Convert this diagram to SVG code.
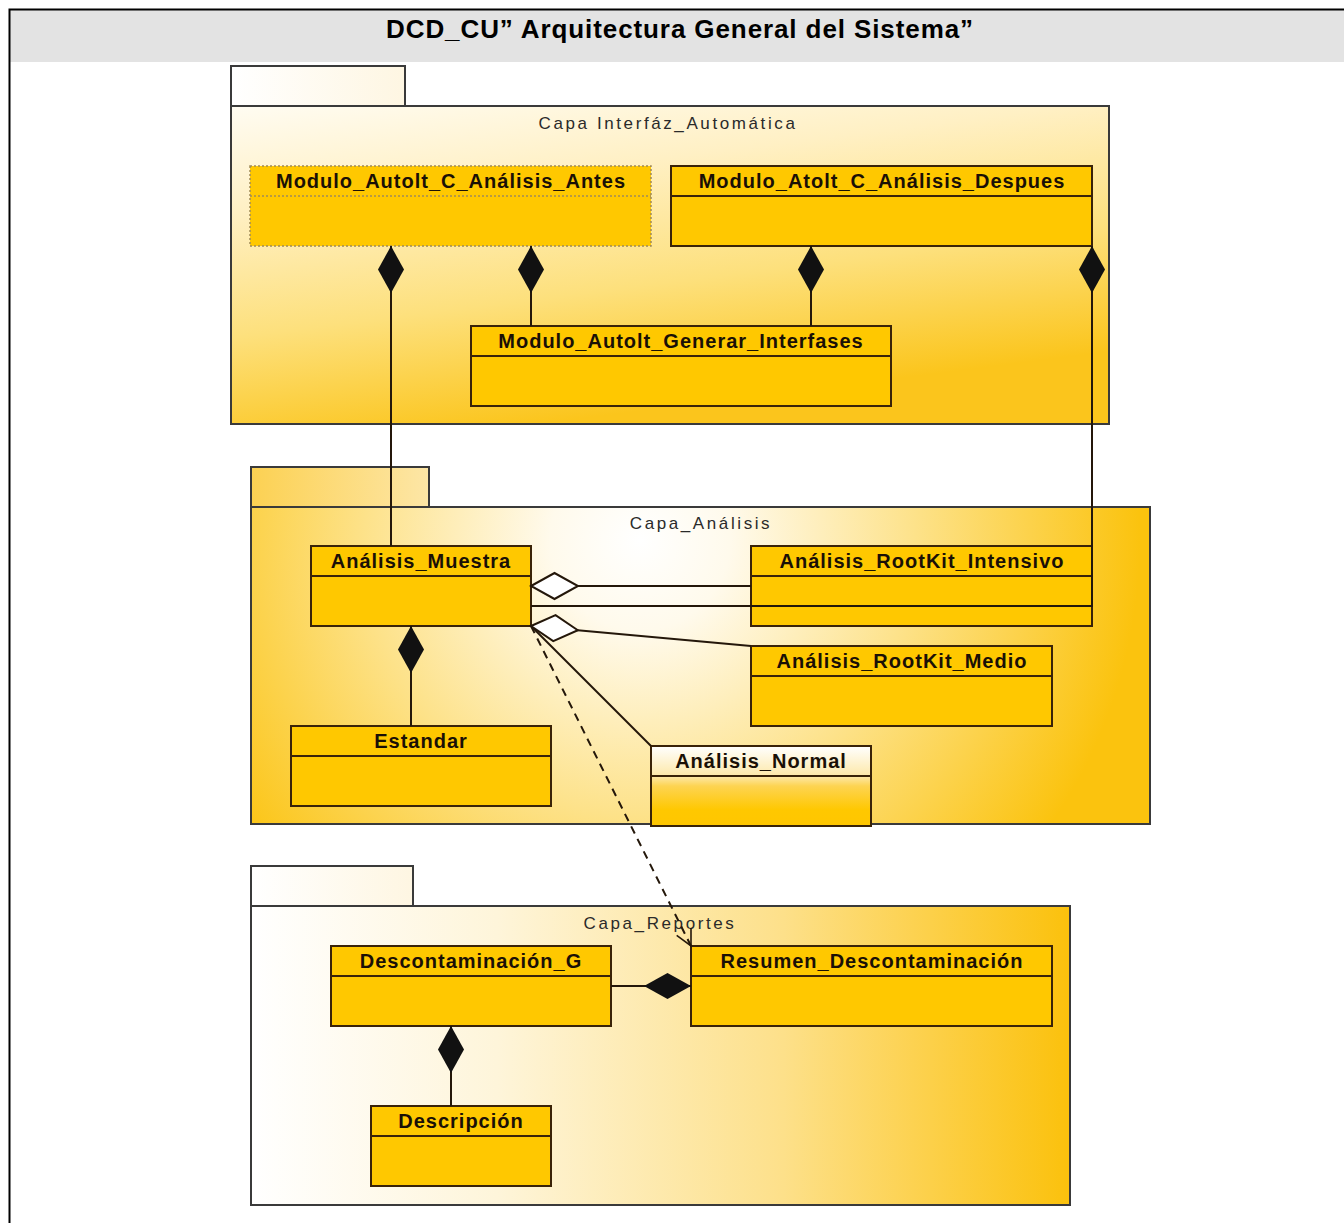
<svg xmlns="http://www.w3.org/2000/svg" width="1344" height="1223" viewBox="0 0 1344 1223">
  <style>
    .pkg { stroke: #3a3a3a; stroke-width: 2; }
    .cls { fill: #ffc800; stroke: #3a2308; stroke-width: 2; }
    .sep { stroke: #3a2308; stroke-width: 2; fill: none; }
    .dotted { fill: #ffc800; stroke: #a08a58; stroke-width: 1.5; stroke-dasharray: 2 2; }
    .dotsep { stroke: #a08a58; stroke-width: 1.5; stroke-dasharray: 2 2; fill: none; }
    .ctitle { font-family: "Liberation Sans", Arial, sans-serif; font-weight: bold; font-size: 20px; letter-spacing: 1px; text-anchor: middle; fill: #1a1006; }
    .pname { font-family: "Liberation Sans", Arial, sans-serif; font-size: 17px; letter-spacing: 2.6px; text-anchor: middle; fill: #2a2a2a; }
    .title { font-family: "Liberation Sans", Arial, sans-serif; font-weight: bold; font-size: 26px; letter-spacing: 0.9px; text-anchor: middle; fill: #000; }
    .conn { fill: none; stroke: #24170a; stroke-width: 2; }
    .comp { marker-start: url(#diamondFilled); }
    .aggr { marker-start: url(#diamondHollow); }
    .dep { stroke-dasharray: 8 6; marker-end: url(#openArrow); }
  </style>
  <defs>
    <linearGradient id="gPkg1" x1="0" y1="0" x2="0.35" y2="1">
      <stop offset="0" stop-color="#fffcf2"/>
      <stop offset="0.3" stop-color="#fff0c4"/>
      <stop offset="0.65" stop-color="#fde07c"/>
      <stop offset="1" stop-color="#fbc51c"/>
    </linearGradient>
    <radialGradient id="gPkg2" gradientUnits="userSpaceOnUse" cx="640" cy="540" r="500">
      <stop offset="0" stop-color="#ffffff"/>
      <stop offset="0.18" stop-color="#fffaec"/>
      <stop offset="0.55" stop-color="#fde28a"/>
      <stop offset="1" stop-color="#fbc30e"/>
    </radialGradient>
    <linearGradient id="gPkg3" x1="0" y1="0" x2="1" y2="0">
      <stop offset="0" stop-color="#ffffff"/>
      <stop offset="0.3" stop-color="#fef5da"/>
      <stop offset="0.65" stop-color="#fde08a"/>
      <stop offset="1" stop-color="#fbc10c"/>
    </linearGradient>
    <linearGradient id="gTabLight" x1="0" y1="0" x2="1" y2="0">
      <stop offset="0" stop-color="#ffffff"/>
      <stop offset="1" stop-color="#fef6e2"/>
    </linearGradient>
    <linearGradient id="gTab2" x1="0" y1="0" x2="1" y2="0">
      <stop offset="0" stop-color="#fcd152"/>
      <stop offset="1" stop-color="#fde6a6"/>
    </linearGradient>
    <linearGradient id="gNormal" x1="0" y1="0" x2="0" y2="1">
      <stop offset="0" stop-color="#ffffff"/>
      <stop offset="0.38" stop-color="#fde8a8"/>
      <stop offset="0.5" stop-color="#fdd452"/>
      <stop offset="0.8" stop-color="#ffc800"/>
      <stop offset="1" stop-color="#ffc600"/>
    </linearGradient>
    <marker id="diamondFilled" markerUnits="userSpaceOnUse" viewBox="-2 -2 52 30" markerWidth="52" markerHeight="30" refX="0" refY="13" orient="auto">
      <path d="M0,13 L23.5,0 L47,13 L23.5,26 Z" fill="#111"/>
    </marker>
    <marker id="diamondHollow" markerUnits="userSpaceOnUse" viewBox="-2 -2 52 30" markerWidth="52" markerHeight="30" refX="0" refY="13" orient="auto">
      <path d="M0,13 L23.5,0 L47,13 L23.5,26 Z" fill="#ffffff" stroke="#24170a" stroke-width="2"/>
    </marker>
    <marker id="openArrow" markerUnits="userSpaceOnUse" viewBox="-20 -11 22 22" markerWidth="22" markerHeight="22" refX="0" refY="0" orient="auto">
      <path d="M-16,-8 L0,0 L-16,8" fill="none" stroke="#24170a" stroke-width="1.6"/>
    </marker>
  </defs>

  <!-- frame and title band -->
  <g id="frame">
    <rect x="10" y="10" width="1334" height="52" fill="#e3e3e3"/>
    <path d="M9.5,1223 V9.5 H1344" fill="none" stroke="#000" stroke-width="2"/>
    <text class="title" x="680" y="38">DCD_CU” Arquitectura General del Sistema”</text>
  </g>

  <!-- packages -->
  <g id="pkg-interfaz">
    <rect class="pkg" x="231" y="66" width="174" height="40" fill="url(#gTabLight)"/>
    <rect class="pkg" x="231" y="106" width="878" height="318" fill="url(#gPkg1)"/>
    <text class="pname" x="668" y="129">Capa Interfáz_Automática</text>
  </g>
  <g id="pkg-analisis">
    <rect class="pkg" x="251" y="467" width="178" height="40" fill="url(#gTab2)"/>
    <rect class="pkg" x="251" y="507" width="899" height="317" fill="url(#gPkg2)"/>
    <text class="pname" x="701" y="529">Capa_Análisis</text>
  </g>
  <g id="pkg-reportes">
    <rect class="pkg" x="251" y="866" width="162" height="40" fill="url(#gTabLight)"/>
    <rect class="pkg" x="251" y="906" width="819" height="299" fill="url(#gPkg3)"/>
    <text class="pname" x="660" y="929">Capa_Reportes</text>
  </g>

  <!-- classes -->
  <g id="cls-antes">
    <rect class="dotted" x="250" y="166" width="401" height="80"/>
    <line class="dotsep" x1="250" y1="196" x2="651" y2="196"/>
    <text class="ctitle" x="451" y="188">Modulo_Autolt_C_Análisis_Antes</text>
  </g>
  <g id="cls-despues">
    <rect class="cls" x="671" y="166" width="421" height="80"/>
    <line class="sep" x1="671" y1="196" x2="1092" y2="196"/>
    <text class="ctitle" x="882" y="188">Modulo_Atolt_C_Análisis_Despues</text>
  </g>
  <g id="cls-generar">
    <rect class="cls" x="471" y="326" width="420" height="80"/>
    <line class="sep" x1="471" y1="356" x2="891" y2="356"/>
    <text class="ctitle" x="681" y="348">Modulo_Autolt_Generar_Interfases</text>
  </g>
  <g id="cls-muestra">
    <rect class="cls" x="311" y="546" width="220" height="80"/>
    <line class="sep" x1="311" y1="576" x2="531" y2="576"/>
    <text class="ctitle" x="421" y="568">Análisis_Muestra</text>
  </g>
  <g id="cls-intensivo">
    <rect class="cls" x="751" y="546" width="341" height="80"/>
    <line class="sep" x1="751" y1="576" x2="1092" y2="576"/>
    <text class="ctitle" x="922" y="568">Análisis_RootKit_Intensivo</text>
  </g>
  <g id="cls-medio">
    <rect class="cls" x="751" y="646" width="301" height="80"/>
    <line class="sep" x1="751" y1="676" x2="1052" y2="676"/>
    <text class="ctitle" x="902" y="668">Análisis_RootKit_Medio</text>
  </g>
  <g id="cls-estandar">
    <rect class="cls" x="291" y="726" width="260" height="80"/>
    <line class="sep" x1="291" y1="756" x2="551" y2="756"/>
    <text class="ctitle" x="421" y="748">Estandar</text>
  </g>
  <g id="cls-normal">
    <rect class="cls" x="651" y="746" width="220" height="80" fill="url(#gNormal)" style="fill:url(#gNormal)"/>
    <line class="sep" x1="651" y1="776" x2="871" y2="776"/>
    <text class="ctitle" x="761" y="768">Análisis_Normal</text>
  </g>
  <g id="cls-descontaminacion">
    <rect class="cls" x="331" y="946" width="280" height="80"/>
    <line class="sep" x1="331" y1="976" x2="611" y2="976"/>
    <text class="ctitle" x="471" y="968">Descontaminación_G</text>
  </g>
  <g id="cls-resumen">
    <rect class="cls" x="691" y="946" width="361" height="80"/>
    <line class="sep" x1="691" y1="976" x2="1052" y2="976"/>
    <text class="ctitle" x="872" y="968">Resumen_Descontaminación</text>
  </g>
  <g id="cls-descripcion">
    <rect class="cls" x="371" y="1106" width="180" height="80"/>
    <line class="sep" x1="371" y1="1136" x2="551" y2="1136"/>
    <text class="ctitle" x="461" y="1128">Descripción</text>
  </g>

  <!-- connectors -->
  <g id="connectors">
    <path class="conn comp" d="M391,246 V546"/>
    <path class="conn comp" d="M531,246 V326"/>
    <path class="conn comp" d="M811,246 V326"/>
    <path class="conn comp" d="M1092,246 V606 H531"/>
    <path class="conn aggr" d="M531,586 H751"/>
    <path class="conn" d="M531,626 L651,746"/>
    <path class="conn aggr" d="M531,626 L751,646"/>
    <path class="conn comp" d="M411,626 V726"/>
    <path class="conn dep" d="M531,626 L691,946"/>
    <path class="conn comp" d="M691,986 H611"/>
    <path class="conn comp" d="M451,1026 V1106"/>
  </g>
</svg>
